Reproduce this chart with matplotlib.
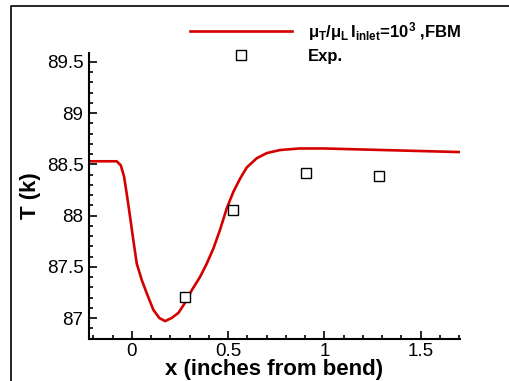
import numpy as np
import matplotlib.pyplot as plt
from matplotlib.lines import Line2D

plt.rcParams['font.family'] = 'Liberation Sans'
plt.rcParams['mathtext.fontset'] = 'custom'
plt.rcParams['mathtext.rm'] = 'Liberation Sans:bold'
plt.rcParams['mathtext.it'] = 'Liberation Sans:bold'
plt.rcParams['mathtext.bf'] = 'Liberation Sans:bold'

# FBM curve
x_fbm = [-0.222, -0.164, -0.078, -0.057, -0.040, -0.026, -0.009, 0.008, 0.026,
         0.052, 0.078, 0.112, 0.143, 0.173, 0.207, 0.242, 0.277, 0.311, 0.354,
         0.389, 0.424, 0.458, 0.493, 0.527, 0.562, 0.597, 0.649, 0.701, 0.770,
         0.870, 1.0, 1.2, 1.4, 1.6, 1.704]
T_fbm = [88.53, 88.53, 88.53, 88.49, 88.38, 88.21, 87.99, 87.76, 87.53,
         87.37, 87.24, 87.08, 87.00, 86.97, 87.00, 87.05, 87.15, 87.27, 87.40,
         87.53, 87.68, 87.86, 88.07, 88.23, 88.36, 88.47, 88.56, 88.61, 88.64,
         88.655, 88.655, 88.645, 88.635, 88.625, 88.62]

# experimental points
x_exp = [0.277, 0.527, 0.905, 1.283]
T_exp = [87.21, 88.05, 88.42, 88.39]

fig = plt.figure(figsize=(5.09, 3.81), dpi=100)
ax = fig.add_axes([0.1749, 0.1102, 0.9037 - 0.1749, 0.8617 - 0.1102])

ax.plot(x_fbm, T_fbm, color='#d40000', lw=1.9,
        label=r'$\mu_\mathrm{T}/\mu_\mathrm{L}\,\mathrm{I}_\mathrm{inlet}$=10$^3$ ,FBM')
ax.plot(x_exp, T_exp, ls='none', marker='s', ms=6.5, mfc='white', mec='black',
        mew=1.0, label='Exp.')

ax.set_xlim(-0.222, 1.704)
ax.set_ylim(86.795, 89.59)
ax.set_xticks([0, 0.5, 1, 1.5])
ax.set_xticklabels(['0', '0.5', '1', '1.5'])
ax.set_yticks([87, 87.5, 88, 88.5, 89, 89.5])
ax.set_yticklabels(['87', '87.5', '88', '88.5', '89', '89.5'])
ax.set_xticks(np.arange(-0.2, 1.71, 0.1), minor=True)
ax.set_yticks(np.arange(86.8, 89.59, 0.1), minor=True)
ax.tick_params(which='both', direction='in', width=1.2, labelsize=13.5)
ax.tick_params(axis='x', pad=3)
ax.tick_params(axis='y', pad=4)
ax.tick_params(which='major', length=6)
ax.tick_params(which='minor', length=3)

for s in ['top', 'right']:
    ax.spines[s].set_visible(False)
for s in ['left', 'bottom']:
    ax.spines[s].set_linewidth(1.5)

ax.set_xlabel('x (inches from bend)', fontsize=16, fontweight='bold', labelpad=-1)
ax.set_ylabel('T (k)', fontsize=16, fontweight='bold', labelpad=4)

leg = ax.legend(loc='upper left', bbox_to_anchor=(190 / 509, 1 - 20 / 381),
                bbox_transform=fig.transFigure, frameon=False, numpoints=1,
                prop={'size': 12, 'weight': 'bold'}, handlelength=6.1,
                handletextpad=1.0, labelspacing=0.35, borderaxespad=0,
                borderpad=0)

# outer frame (left and top edges)
fig.add_artist(Line2D([11 / 509, 11 / 509, 1.0], [0.0, 1 - 6 / 381, 1 - 6 / 381],
                      transform=fig.transFigure, color='black', lw=1.2))

fig.savefig('out.png', dpi=100)
